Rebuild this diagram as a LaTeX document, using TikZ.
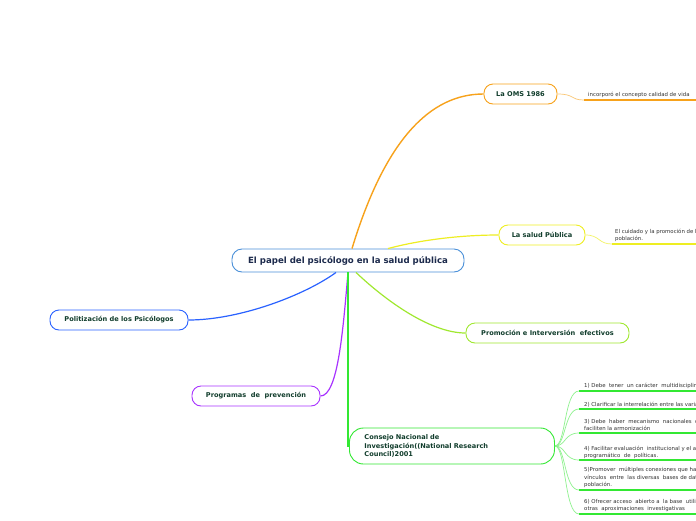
\documentclass[tikz,border=0pt]{standalone}
\usepackage{fontspec}
\setmainfont{DejaVu Sans}
\definecolor{txtgreen}{HTML}{113D2C}
\definecolor{txtnavy}{HTML}{1C2A4C}
\definecolor{leafgray}{HTML}{333333}
\definecolor{cblue}{HTML}{4A90D9}
\definecolor{corange}{HTML}{F7A21B}
\definecolor{cyellow}{HTML}{EEEE22}
\definecolor{clime}{HTML}{A0E830}
\definecolor{cblue2}{HTML}{2A62FF}
\definecolor{cpurple}{HTML}{A833FF}
\definecolor{cgreen}{HTML}{33E833}
\begin{document}
\begin{tikzpicture}[x=1pt,y=-1pt]
\useasboundingbox[fill=white] (0,0) rectangle (696,520);
\tikzset{
  branch/.style={draw, rounded corners=9pt, fill=white, line width=0.9pt,
    font=\bfseries\fontsize{6.6}{8}\selectfont, text=txtgreen,
    minimum height=20pt, inner xsep=6pt},
  leaf/.style={font=\fontsize{5.4}{7.6}\selectfont, text=leafgray,
    anchor=south west, inner sep=1pt, align=left},
  conn/.style={line width=1.2pt},
  leafconn/.style={line width=0.7pt},
  uline/.style={line width=1.6pt},
}
% central node
\node[draw=cblue, line width=0.9pt, rounded corners=10pt, fill=white,
  minimum width=232pt, minimum height=23pt, text=txtnavy,
  font=\bfseries\fontsize{8.6}{10}\selectfont] (center) at (348,260.5)
  {El papel del psicólogo en la salud pública};

% branches
\node[branch, draw=corange, minimum width=73pt] (oms) at (520.5,94) {La OMS 1986};
\node[branch, draw=cyellow, minimum width=86pt] (salud) at (542,235) {La salud Pública};
\node[branch, draw=clime, minimum width=163pt] (promo) at (547.5,333) {Promoción e Interversión\ \ efectivos};
\node[branch, draw=cblue2, minimum width=138pt] (polit) at (119,320) {Politización de los Psicólogos};
\node[branch, draw=cpurple, minimum width=128pt] (prog) at (256,396) {Programas\ \ de\ \ prevención};
\node[branch, draw=cgreen, rounded corners=14pt, anchor=west, minimum width=205pt,
  minimum height=36pt, text width=175pt, align=left, inner xsep=15pt,
  font=\bfseries\fontsize{6.6}{8.6}\selectfont] (consejo) at (349,446)
  {Consejo Nacional de\\Investigación((National Research\\Council)2001};

% main connectors
\draw[conn, corange, line width=1.4pt] ([xshift=4pt]center.north) .. controls (385,140) and (430,94) .. (oms.west);
\draw[conn, cyellow] ([xshift=40pt]center.north) .. controls (420,240) and (460,235) .. (salud.west);
\draw[conn, clime] ([xshift=8pt]center.south) .. controls (385,300) and (430,333) .. (promo.west);
\draw[conn, cblue2] ([xshift=-12pt]center.south) .. controls (305,295) and (240,320) .. (polit.east);
\draw[conn, cpurple] (center.south) .. controls (343,330) and (338,396) .. (prog.east);
\draw[conn, cgreen] (center.south) |- (consejo.west);

% leaves of La OMS 1986
\node[leaf] (l1) at (587,99) {incorporó el concepto calidad de vida};
\coordinate (u1) at (584,100);
\draw[uline, corange] (u1) -- (696,100);
\draw[leafconn, corange!60] (oms.east) .. controls (575,94) and (570,100) .. (u1);

% leaf of La salud Publica
\node[leaf] (l2) at (614,243) {El cuidado y la promoción de la salud de la\\población.};
\coordinate (u2) at (612,244);
\draw[uline, cyellow] (u2) -- (696,244);
\draw[leafconn, cyellow!70] (salud.east) .. controls (600,235) and (598,244) .. (u2);

% leaves of Consejo
\node[leaf] (c1) at (583,390) {1)\ Debe\ \ tener\ \ un carácter\ \ multidisciplinario};
\node[leaf] (c2) at (583,408) {2)\ Clarificar la interrelación entre las variables};
\node[leaf] (c3) at (583,432) {3)\ Debe\ \ haber\ \ mecanismo\ \ nacionales\ \ que\\faciliten la armonización};
\node[leaf] (c4) at (583,460) {4)\ Facilitar evaluación\ \ institucional y el análisis\\programático\ \ de\ \ políticas.};
\node[leaf] (c5) at (583,489) {5)Promover\ \ múltiples conexiones que hagan\\vínculos\ \ entre\ \ las diversas\ \ bases de datos de la\\población.};
\node[leaf] (c6) at (583,513) {6)\ Ofrecer acceso\ \ abierto a\ \ la base\ \ utilizada por\\otras\ \ aproximaciones\ \ investigativas};
\foreach \n/\y in {1/391,2/409,3/433,4/460,5/490,6/514}{
  \coordinate (cu\n) at (579,\y);
  \draw[uline, cgreen] (cu\n) -- (696,\y);
  \draw[leafconn, cgreen!55] (consejo.east) .. controls (566,446) and (564,\y) .. (cu\n);
}
\end{tikzpicture}
\end{document}
